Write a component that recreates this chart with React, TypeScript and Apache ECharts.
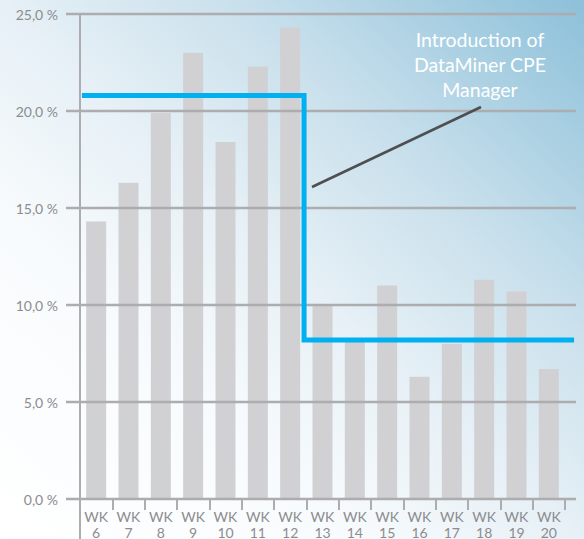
import React, { useEffect, useRef } from "react";
import * as echarts from "echarts";

const categories = ["6", "7", "8", "9", "10", "11", "12", "13", "14", "15", "16", "17", "18", "19", "20"];
const barValues = [14.3, 16.3, 19.9, 23.0, 18.4, 22.3, 24.3, 10.0, 8.1, 11.0, 6.3, 8.0, 11.3, 10.7, 6.7];
// x in category-index units (first category centre = 0)
const stepLine: [number, number][] = [
  [-0.44, 20.8],
  [6.43, 20.8],
  [6.43, 8.2],
  [14.78, 8.2],
];
const yTicks = [0, 5, 10, 15, 20, 25];
const annotationText = "Introduction of\nDataMiner CPE\nManager";

const FONT = "Lato, 'Open Sans', sans-serif";
const GRID_GRAY = "#adadaf";
const LABEL_GRAY = "#8c8c8e";

// grid 1 (category area): left 80, width 485; grid 0 (full grid lines): left 66, width 510
const CAT_W = 485 / 15;
const G0_MIN = (66 - 80) / CAT_W - 0.5;
const G0_MAX = (66 + 510 - 80) / CAT_W - 0.5;

export default function App() {
  const ref = useRef<HTMLDivElement>(null);
  useEffect(() => {
    if (!ref.current) return;
    const chart = echarts.init(ref.current, undefined, { renderer: "svg" });
    chart.setOption({
      animation: false,
      backgroundColor: new echarts.graphic.LinearGradient(0, 1, 1, 0, [
        { offset: 0, color: "#ffffff" },
        { offset: 0.3, color: "#f8fbfd" },
        { offset: 0.5, color: "#e6f0f6" },
        { offset: 0.7, color: "#c9e0ec" },
        { offset: 1, color: "#8cc0d9" },
      ]),
      grid: [
        { left: 66, width: 510, top: 14, bottom: 40, outerBoundsMode: "none", containLabel: false },
        { left: 80, width: 485, top: 14, bottom: 40, outerBoundsMode: "none", containLabel: false },
      ],
      xAxis: [
        { type: "value", gridIndex: 0, show: false, min: G0_MIN, max: G0_MAX },
        {
          type: "category",
          gridIndex: 1,
          data: categories,
          boundaryGap: true,
          axisLine: { show: false },
          axisTick: { show: true, length: 11, lineStyle: { color: GRID_GRAY, width: 2 } },
          axisLabel: {
            formatter: (v: string) => "WK\n" + v,
            color: LABEL_GRAY,
            fontFamily: FONT,
            fontSize: 14,
            lineHeight: 16,
            margin: 9,
            interval: 0,
          },
        },
      ],
      yAxis: [
        {
          type: "value",
          gridIndex: 0,
          min: 0,
          max: 25,
          interval: 5,
          z: 3,
          axisLine: { show: false },
          axisTick: { show: false },
          splitLine: { show: true, lineStyle: { color: GRID_GRAY, width: 2.3 } },
          axisLabel: {
            formatter: (v: number) => (yTicks.includes(v) ? v.toFixed(1).replace(".", ",") + " %" : ""),
            color: LABEL_GRAY,
            fontFamily: FONT,
            fontSize: 14,
            margin: 8,
          },
        },
        {
          type: "value",
          gridIndex: 1,
          min: 0,
          max: 25,
          interval: 5,
          z: 3,
          axisLine: { show: true, onZero: false, lineStyle: { color: GRID_GRAY, width: 2 } },
          axisTick: { show: false },
          axisLabel: { show: false },
          splitLine: { show: false },
        },
      ],
      series: [
        {
          type: "bar",
          xAxisIndex: 1,
          yAxisIndex: 1,
          data: barValues,
          barWidth: 20,
          itemStyle: { color: "#d1d1d3" },
          z: 2,
        },
        {
          type: "line",
          xAxisIndex: 0,
          yAxisIndex: 0,
          data: stepLine,
          symbol: "none",
          lineStyle: { color: "#00b0f0", width: 5, cap: "butt", join: "miter" },
          z: 5,
        },
      ],
      graphic: [
        {
          type: "line",
          shape: { x1: 80, y1: 499, x2: 80, y2: 539 },
          style: { stroke: GRID_GRAY, lineWidth: 2 },
          z: 10,
        },
        {
          type: "line",
          shape: { x1: 312, y1: 187, x2: 481, y2: 107 },
          style: { stroke: "#4f4f51", lineWidth: 2.5 },
          z: 10,
        },
        {
          type: "text",
          x: 480,
          y: 64,
          style: {
            text: annotationText,
            fill: "#ffffff",
            font: "19.5px " + FONT,
            lineHeight: 25,
            textAlign: "center",
            textVerticalAlign: "middle",
          },
          z: 10,
        },
      ],
    });
    return () => chart.dispose();
  }, []);
  return <div ref={ref} style={{ width: 584, height: 539, position: "absolute", left: 0, top: 0 }} />;
}
